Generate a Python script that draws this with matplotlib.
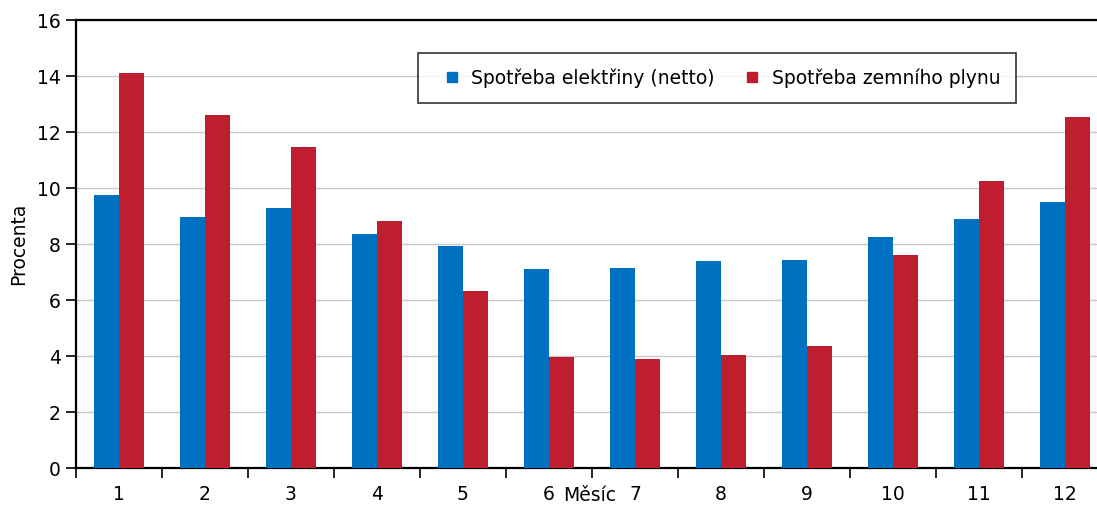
import numpy as np
import matplotlib.pyplot as plt
from matplotlib.lines import Line2D

# Monthly share of annual consumption (percent)
months = ["1", "2", "3", "4", "5", "6", "7", "8", "9", "10", "11", "12"]
elektrina = [9.75, 8.96, 9.29, 8.36, 7.93, 7.11, 7.14, 7.39, 7.43, 8.25, 8.89, 9.50]
plyn = [14.11, 12.61, 11.46, 8.82, 6.32, 3.96, 3.89, 4.04, 4.36, 7.61, 10.25, 12.54]
labels = ["Spotřeba elektřiny (netto)", "Spotřeba zemního plynu"]
colors = ["#0070c0", "#be1e2d"]

plt.rcParams['font.family'] = ['DejaVu Sans']

fig = plt.figure(figsize=(10.97, 5.07), dpi=100)
ax = fig.add_axes([76/1097, 39/507, 1032/1097, 448/507])

x = np.arange(len(months))
w = 0.285
ax.bar(x - w/2, elektrina, width=w, color=colors[0], zorder=3)
ax.bar(x + w/2, plyn, width=w, color=colors[1], zorder=3)

ax.set_xlim(-0.5, len(months) - 0.5)
ax.set_ylim(0, 16)
ax.set_yticks(range(0, 17, 2))
ax.tick_params(axis='y', labelsize=13.5, length=7, width=1.2, direction='out', pad=4)

# boundary ticks without labels, category labels on minor ticks
ax.set_xticks(np.arange(-0.5, len(months), 1))
ax.set_xticklabels([])
ax.set_xticks(x, minor=True)
ax.set_xticklabels(months, minor=True)
ax.tick_params(axis='x', which='major', length=7, width=1.2, direction='out')
ax.tick_params(axis='x', which='minor', length=0, labelsize=13.5, pad=12)

ax.grid(axis='y', color="#c8c8c8", linewidth=1, zorder=0)
ax.set_axisbelow(True)
for s in ax.spines.values():
    s.set_linewidth(1.6)
    s.set_color("black")

ax.set_ylabel("Procenta", fontsize=13.5, labelpad=6)
fig.text(590/1097, 0.004, "Měsíc", fontsize=13.5, ha='center', va='bottom')

handles = [Line2D([], [], marker='s', linestyle='none', markersize=7.2, color=c) for c in colors]
leg = ax.legend(handles, labels, loc='upper left', bbox_to_anchor=(342/1032, 1 - 33/448), ncol=2,
                fontsize=13.5, frameon=True, fancybox=False, handlelength=2.0,
                columnspacing=1.0, borderpad=0.8, handletextpad=0.05,
                borderaxespad=0)
leg.get_frame().set_edgecolor("black")
leg.get_frame().set_linewidth(1.2)

plt.savefig("out.png", dpi=100)
